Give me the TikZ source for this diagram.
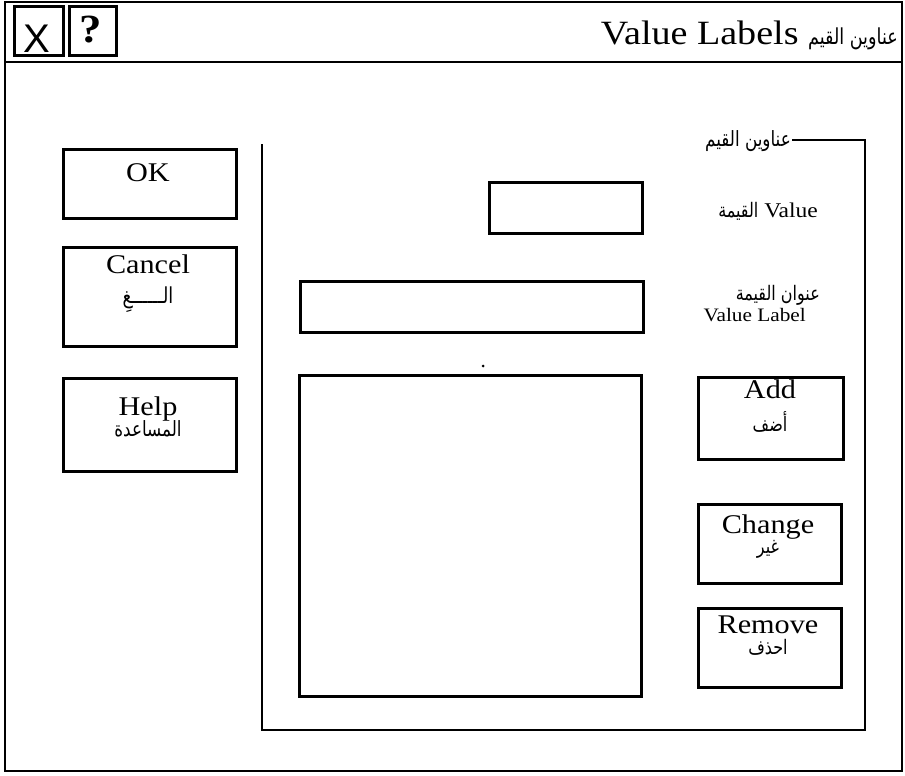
\documentclass[tikz,border=0pt]{standalone}
\usepackage{fontspec}
\setmainfont[FakeStretch=1.12]{Liberation Serif}
\newfontfamily\arabicfont[Script=Arabic, FakeStretch=0.8]{DejaVu Sans}
\newfontfamily\uisans{Liberation Sans}
\TeXXeTstate=1
\newcommand\artxt[2][16]{{\arabicfont\fontsize{#1}{#1}\selectfont\beginR #2\endR}}
\begin{document}
\begin{tikzpicture}[x=1pt,y=-1pt,
  frame/.style={draw=black, line width=2.8pt},
  field/.style={frame, anchor=north west, inner sep=0pt},
  btntext/.style={anchor=base, inner sep=0pt, font=\fontsize{27}{30}\selectfont},
  artext/.style={anchor=base, inner sep=0pt},
  lbl/.style={anchor=base east, inner sep=0pt, font=\fontsize{21}{24}\selectfont}]
\useasboundingbox (0,0) rectangle (905,776);
% outer window
\draw[frame] (5,2) rectangle (902,771);
\coordinate (tl) at (5,62);
\coordinate (tr) at (902,62);
\draw[frame] (tl) -- (tr);
% title bar boxes
\node[field, minimum width=49pt, minimum height=49pt] (xbox) at (13,5) {};
\node[inner sep=0pt, font=\uisans\fontsize{40}{40}\selectfont] (xglyph) at (37,39) {X};
\node[field, minimum width=47pt, minimum height=49pt] (qbox) at (68,5) {};
\node[inner sep=0pt, font=\bfseries\fontsize{40}{40}\selectfont] (qglyph) at (91,30) {?};
\node[anchor=base east, inner sep=0pt, font=\fontsize{34}{38}\selectfont] (title) at (898,45) {Value Labels \artxt[22]{عناوين القيم}};
% left buttons
\node[field, minimum width=173pt, minimum height=69pt] (ok) at (62,148) {};
\node[btntext] (oktxt) at (148,181) {OK};
\node[field, minimum width=173pt, minimum height=99pt] (cancel) at (62,246) {};
\node[btntext] (canceltxt) at (148,273) {Cancel};
\node[artext] (cancelar) at (148,303) {\artxt[22]{الــــــغِ}};
\node[field, minimum width=173pt, minimum height=93pt] (help) at (62,377) {};
\node[btntext] (helptxt) at (148,415) {Help};
\node[artext] (helpar) at (148,436) {\artxt[21]{المساعدة}};
% group box
\node[anchor=east, inner sep=1pt] (glbl) at (792,141) {\artxt[21]{عناوين القيم}};
\coordinate (gtr) at (865,140);
\coordinate (gbr) at (865,730);
\coordinate (gbl) at (262,730);
\coordinate (gtl) at (262,144);
\draw[frame] (glbl.east |- gtr) -- (gtr) -- (gbr) -- (gbl) -- (gtl);
% fields
\node[field, minimum width=153pt, minimum height=51pt] (valuefield) at (488,181) {};
\node[field, minimum width=343pt, minimum height=51pt] (labelfield) at (299,280) {};
\node[field, minimum width=342pt, minimum height=321pt] (listbox) at (298,374) {};
\fill (483,366) circle (1.5pt);
% labels
\node[lbl] (valuelbl) at (818,217) {\artxt[20]{القيمة} Value};
\node[lbl] (vlabelar) at (820,300) {\artxt[20]{عنوان القيمة}};
\node[lbl, font=\fontsize{19}{22}\selectfont] (vlabel) at (806,321) {Value Label};
% right buttons
\node[field, minimum width=145pt, minimum height=82pt] (add) at (697,376) {};
\node[btntext] (addtxt) at (770,398) {Add};
\node[artext] (addar) at (770,431) {\artxt[20]{أضف}};
\node[field, minimum width=143pt, minimum height=79pt] (change) at (697,503) {};
\node[btntext] (changetxt) at (768,533) {Change};
\node[artext] (changear) at (768,553) {\artxt[20]{غير}};
\node[field, minimum width=143pt, minimum height=79pt] (remove) at (697,607) {};
\node[btntext] (removetxt) at (768,633) {Remove};
\node[artext] (removear) at (768,654) {\artxt[20]{احذف}};
\end{tikzpicture}
\end{document}
